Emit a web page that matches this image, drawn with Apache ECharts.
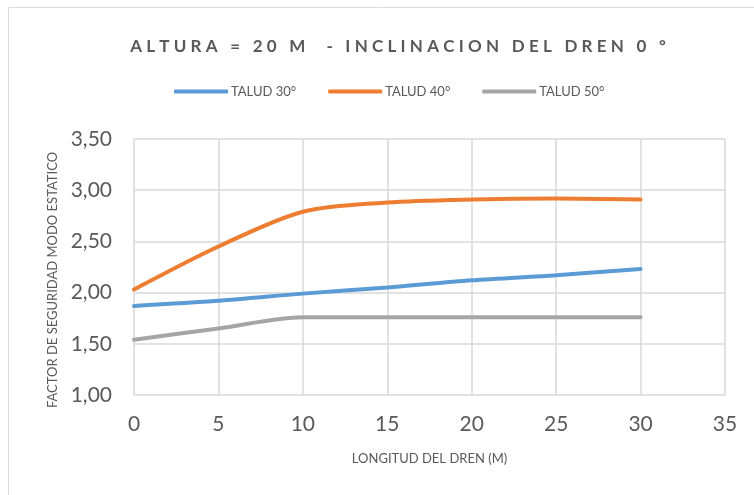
<!DOCTYPE html>
<html>
<head>
<meta charset="utf-8">
<script src="https://cdn.jsdelivr.net/npm/echarts@6/dist/echarts.min.js"></script>
<style>
  html, body { margin: 0; padding: 0; background: #fff; }
  #chart { width: 754px; height: 495px; }
</style>
</head>
<body>
<div id="chart"></div>
<script>
// Drain length (m) and safety factor for each slope angle
const longitudes = [0, 5, 10, 15, 20, 25, 30];
const talud30 = [1.87, 1.92, 1.99, 2.05, 2.12, 2.17, 2.23];
const talud40 = [2.03, 2.45, 2.79, 2.88, 2.91, 2.92, 2.91];
const talud50 = [1.54, 1.65, 1.76, 1.76, 1.76, 1.76, 1.76];
const seriesNames = ['TALUD 30°', 'TALUD 40°', 'TALUD 50°'];
const seriesColors = ['#5B9BD5', '#ED7D31', '#A5A5A5'];

const titleText = 'ALTURA = 20 M  - INCLINACION DEL DREN 0 º';
// spread the title letters out with thin + hair spaces
const spaced = Array.from(titleText).join('\u2009\u200A\u200A');

const font = 'Lato, "Open Sans", sans-serif';
const toPairs = ys => longitudes.map((x, i) => [x, ys[i]]);

const chart = echarts.init(document.getElementById('chart'), null, { renderer: 'canvas' });
chart.setOption({
  animation: false,
  backgroundColor: '#ffffff',
  graphic: [{
    type: 'rect',
    shape: { x: 8.5, y: 7.5, width: 800, height: 600 },
    style: { fill: 'none', stroke: '#d9d9d9', lineWidth: 1 },
    silent: true
  }],
  title: {
    text: spaced,
    left: 393,
    textAlign: 'center',
    top: 33,
    textStyle: { fontFamily: font, fontSize: 17, fontWeight: 'bold', color: '#595959' }
  },
  legend: {
    data: seriesNames,
    top: 80,
    left: 169,
    icon: 'roundRect',
    itemWidth: 54,
    itemHeight: 4,
    itemGap: 32,
    textStyle: { fontFamily: font, fontSize: 13, color: '#595959', padding: [0, 0, 0, -2] }
  },
  grid: { left: 134, right: 29, top: 139, bottom: 100, containLabel: false },
  xAxis: {
    type: 'value',
    min: 0, max: 35, interval: 5,
    name: 'LONGITUD DEL DREN (M)',
    nameLocation: 'middle',
    nameGap: 57,
    nameTextStyle: { fontFamily: font, fontSize: 13, color: '#595959' },
    axisLine: { show: false },
    axisTick: { show: false },
    axisLabel: { fontFamily: font, fontSize: 21, color: '#595959', margin: 19 },
    splitLine: { show: true, lineStyle: { color: '#d9d9d9', width: 1.5 } }
  },
  yAxis: {
    type: 'value',
    min: 1, max: 3.5, interval: 0.5,
    name: 'FACTOR DE SEGURIDAD MODO ESTATICO',
    nameLocation: 'middle',
    nameGap: 75,
    nameRotate: 90,
    nameTextStyle: { fontFamily: font, fontSize: 13, color: '#595959', padding: [0, 26, 0, 0] },
    axisLine: { show: false },
    axisTick: { show: false },
    axisLabel: {
      fontFamily: font, fontSize: 21, color: '#595959', margin: 22,
      formatter: v => v.toFixed(2).replace('.', ',')
    },
    splitLine: { show: true, lineStyle: { color: '#d9d9d9', width: 1.5 } }
  },
  series: [talud30, talud40, talud50].map((ys, i) => ({
    name: seriesNames[i],
    type: 'line',
    data: toPairs(ys),
    smooth: 0.3,
    showSymbol: false,
    symbol: 'none',
    color: seriesColors[i],
    lineStyle: { color: seriesColors[i], width: 4, cap: 'round' }
  }))
});
</script>
</body>
</html>
